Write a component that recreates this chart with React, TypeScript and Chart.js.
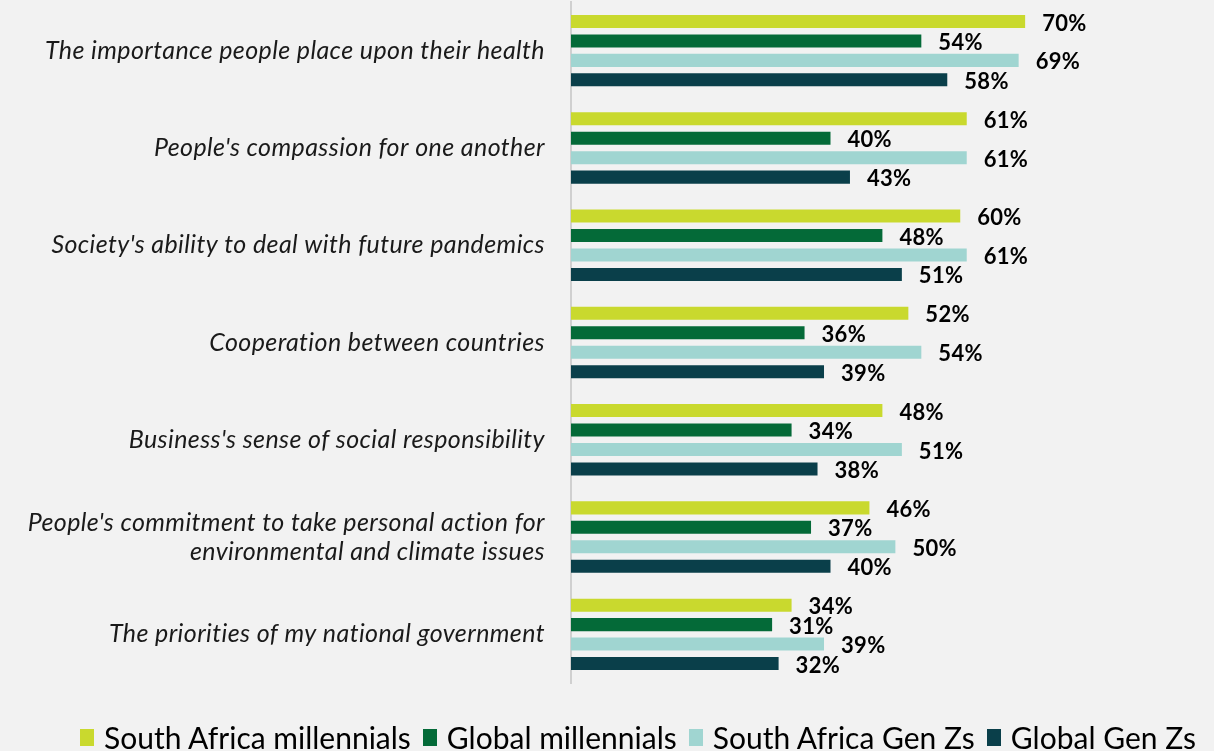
import React, { useEffect, useRef } from "react";
import { Chart, registerables } from "chart.js";

Chart.register(...registerables);

const categories: (string | string[])[] = [
  "The importance people place upon their health",
  "People's compassion for one another",
  "Society's ability to deal with future pandemics",
  "Cooperation between countries",
  "Business's sense of social responsibility",
  ["People's commitment to take personal action for", "environmental and climate issues"],
  "The priorities of my national government",
];

const seriesNames = [
  "South Africa millennials",
  "Global millennials",
  "South Africa Gen Zs",
  "Global Gen Zs",
];

const saMillennials = [70, 61, 60, 52, 48, 46, 34];
const globalMillennials = [54, 40, 48, 36, 34, 37, 31];
const saGenZ = [69, 61, 61, 54, 51, 50, 39];
const globalGenZ = [58, 43, 51, 39, 38, 40, 32];

const colors = ["#C9D92E", "#046A38", "#A0D5D1", "#0A3F4A"];

const FONT = "Lato, 'Open Sans', sans-serif";

const spacingPlugin = {
  id: "letterSpacing",
  beforeDraw(chart: any) {
    chart.ctx.letterSpacing = "0.4px";
  },
};

const labelPlugin = {
  id: "valueLabels",
  afterDatasetsDraw(chart: any) {
    const ctx = chart.ctx;
    ctx.save();
    ctx.letterSpacing = "0.3px";
    ctx.font = `bold 22px ${FONT}`;
    ctx.fillStyle = "#000000";
    ctx.textAlign = "left";
    ctx.textBaseline = "middle";
    chart.data.datasets.forEach((ds: any, i: number) => {
      const meta = chart.getDatasetMeta(i);
      meta.data.forEach((bar: any, j: number) => {
        ctx.fillText(ds.data[j] + "%", bar.x + 17, bar.y + 2);
      });
    });
    ctx.restore();
  },
};

export default function App() {
  const ref = useRef<HTMLCanvasElement>(null);
  useEffect(() => {
    document.body.style.margin = "0";
    document.body.style.background = "#F2F2F2";
    const values = [saMillennials, globalMillennials, saGenZ, globalGenZ];
    const chart = new Chart(ref.current!, {
      type: "bar",
      data: {
        labels: categories,
        datasets: seriesNames.map((name, i) => ({
          label: name,
          data: values[i],
          backgroundColor: colors[i],
          categoryPercentage: 0.8,
          barPercentage: 0.67,
        })),
      },
      options: {
        indexAxis: "y",
        animation: false,
        responsive: false,
        maintainAspectRatio: false,
        layout: { padding: { top: 2, right: 124, left: 0, bottom: 68 } },
        scales: {
          x: {
            display: false,
            min: 0,
            max: 80,
          },
          y: {
            grid: { display: false, drawTicks: false },
            border: { display: true, color: "#D0D0D0", width: 2 },
            ticks: {
              color: "#1A1A1A",
              font: { family: FONT, size: 25, style: "italic", lineHeight: 1.15 },
              padding: 26,
            },
            afterFit(scale: any) {
              scale.width = 571;
              scale.paddingTop = 0;
              scale.paddingBottom = 0;
            },
          },
        },
        plugins: {
          tooltip: { enabled: false },
          legend: { display: false },
        },
      },
      plugins: [spacingPlugin, labelPlugin],
    });
    return () => chart.destroy();
  }, []);
  return (
    <div style={{ position: "relative", width: 1214, height: 751, background: "#F2F2F2" }}>
      <canvas ref={ref} width={1214} height={751} style={{ display: "block" }} />
      <div
        style={{
          position: "absolute",
          left: 62,
          right: 0,
          top: 719,
          height: 36,
          display: "flex",
          justifyContent: "center",
          alignItems: "center",
          fontFamily: FONT,
          fontSize: 30,
          color: "#000",
          whiteSpace: "nowrap",
        }}
      >
        {seriesNames.map((n, i) => (
          <span key={n} style={{ display: "inline-flex", alignItems: "center", marginRight: i < 3 ? 12 : 0 }}>
            <span style={{ display: "inline-block", width: 14, height: 17, background: colors[i], marginRight: 10 }} />
            {n}
          </span>
        ))}
      </div>
    </div>
  );
}
